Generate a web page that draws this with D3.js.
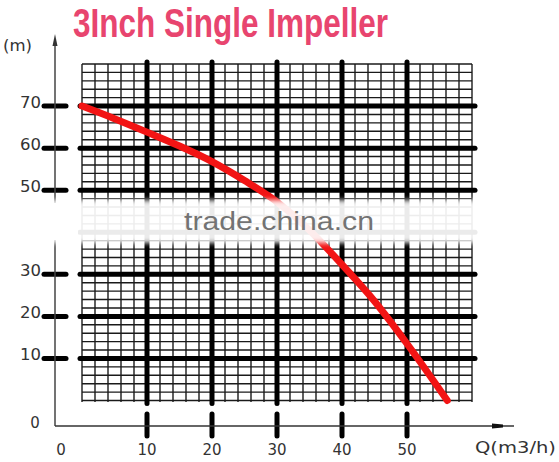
<!DOCTYPE html>
<html>
<head>
<meta charset="utf-8">
<script src="https://cdn.jsdelivr.net/npm/d3@7/dist/d3.min.js"></script>
<style>
  html, body { margin: 0; padding: 0; background: #fff; }
  svg { display: block; }
</style>
</head>
<body>
<script>
// ---- data ----
const titleText = "3Inch Single Impeller";
const yUnit = "(m)";
const xUnit = "Q(m3/h)";
const watermark = "trade.china.cn";
const xTicks = [10, 20, 30, 40, 50];
const yTicks = [10, 20, 30, 40, 50, 60, 70];
const flowQ = [0, 5, 10, 15, 20, 25, 30, 35, 40, 45, 50, 56.2];
const headH = [70, 67, 63.8, 60.5, 56.8, 52.3, 47.2, 40.5, 32.3, 23.6, 13.5, 0];

const W = 559, H = 462;
const svg = d3.select("body").append("svg").attr("width", W).attr("height", H);

const x = d3.scaleLinear().domain([0, 60]).range([82, 472]);
const y = d3.scaleLinear().domain([0, 80]).range([400.5, 64]);

const defs = svg.append("defs");
const f = defs.append("filter").attr("id", "blur").attr("filterUnits", "userSpaceOnUse")
  .attr("x", -50).attr("y", 180).attr("width", 600).attr("height", 90);
f.append("feGaussianBlur").attr("stdDeviation", 2.5);

// title
svg.append("text")
  .attr("x", 73).attr("y", 37)
  .attr("textLength", 315).attr("lengthAdjust", "spacingAndGlyphs")
  .style("font-family", "'Liberation Sans Narrow', 'Liberation Sans', Arial, sans-serif")
  .style("font-size", "40px").style("font-weight", "bold")
  .attr("fill", "#e8456f")
  .text(titleText);

// minor grid
const g = svg.append("g");
const minorX = d3.range(0, 61, 2);
const minorY = d3.range(0, 81, 2);
g.selectAll("line.mx").data(minorX).enter().append("line")
  .attr("x1", d => x(d)).attr("x2", d => x(d))
  .attr("y1", y(80)).attr("y2", y(0) + 1.5)
  .attr("stroke", "#1a1a1a").attr("stroke-width", 1.4);
g.selectAll("line.my").data(minorY).enter().append("line")
  .attr("y1", d => y(d)).attr("y2", d => y(d))
  .attr("x1", x(0)).attr("x2", x(60))
  .attr("stroke", "#1a1a1a").attr("stroke-width", 1.4);

g.selectAll("line.My").data(yTicks).enter().append("line")
  .attr("y1", d => y(d)).attr("y2", d => y(d))
  .attr("x1", x(0) - 2).attr("x2", x(60) + 3)
  .attr("stroke", "#000").attr("stroke-width", 5).attr("stroke-linecap", "round");
g.selectAll("line.ty").data(yTicks).enter().append("line")
  .attr("y1", d => y(d)).attr("y2", d => y(d))
  .attr("x1", 44).attr("x2", 66)
  .attr("stroke", "#000").attr("stroke-width", 5).attr("stroke-linecap", "round");
g.selectAll("line.Mx").data(xTicks).enter().append("line")
  .attr("x1", d => x(d)).attr("x2", d => x(d))
  .attr("y1", y(80) - 2).attr("y2", y(0) + 3)
  .attr("stroke", "#000").attr("stroke-width", 5).attr("stroke-linecap", "round");
g.selectAll("line.tx").data(xTicks).enter().append("line")
  .attr("x1", d => x(d)).attr("x2", d => x(d))
  .attr("y1", 414).attr("y2", 436)
  .attr("stroke", "#000").attr("stroke-width", 5).attr("stroke-linecap", "round");

// axes lines
svg.append("line").attr("x1", 55).attr("x2", 55).attr("y1", 40).attr("y2", 426)
  .attr("stroke", "#444").attr("stroke-width", 1.5);
svg.append("path").attr("d", "M55,34 L57.5,46 L52.5,46 Z").attr("fill", "#333");
svg.append("line").attr("x1", 55).attr("x2", 514).attr("y1", 426).attr("y2", 426)
  .attr("stroke", "#333").attr("stroke-width", 1.5);
svg.append("path").attr("d", "M492,423.5 L503,424.5 L503,427.5 L492,428.5 Z").attr("fill", "#111");

// curve
const line = d3.line().x((d, i) => x(flowQ[i])).y(d => y(d)).curve(d3.curveMonotoneX);
svg.append("path").datum(headH).attr("d", line)
  .attr("fill", "none").attr("stroke", "#f21414").attr("stroke-width", 7)
  .attr("stroke-linecap", "round");

// labels
const lab = svg.append("g")
  .style("font-family", "'DejaVu Sans', sans-serif")
  .style("font-size", "15px").attr("fill", "#333");
lab.selectAll("text.yl").data(yTicks).enter().append("text")
  .attr("x", 41).attr("y", d => y(d) + 2).attr("text-anchor", "end")
  .attr("textLength", 21).attr("lengthAdjust", "spacingAndGlyphs")
  .text(d => d);
lab.selectAll("text.xl").data(xTicks).enter().append("text")
  .attr("x", d => x(d)).attr("y", 455).attr("text-anchor", "middle")
  .text(d => d);
lab.append("text").attr("x", 35).attr("y", 428).attr("text-anchor", "middle").text("0");
lab.append("text").attr("x", 61).attr("y", 455).attr("text-anchor", "middle").text("0");
lab.append("text").attr("x", 3).attr("y", 51).attr("textLength", 29).attr("lengthAdjust", "spacingAndGlyphs").text(yUnit);
lab.append("text").attr("x", 475).attr("y", 453).attr("textLength", 81).attr("lengthAdjust", "spacingAndGlyphs").text(xUnit);

// watermark band
svg.append("rect").attr("x", 0).attr("y", 203).attr("width", 78).attr("height", 37)
  .attr("fill", "#fff");
svg.append("rect").attr("x", -10).attr("y", 200).attr("width", 495).attr("height", 43)
  .attr("fill", "#fff").attr("opacity", 0.92).attr("filter", "url(#blur)");
svg.append("text").attr("x", 184).attr("y", 230)
  .attr("textLength", 190).attr("lengthAdjust", "spacingAndGlyphs")
  .style("font-family", "'Liberation Sans', Arial, sans-serif").style("font-size", "26px")
  .attr("fill", "#737373").text(watermark);
</script>
</body>
</html>
